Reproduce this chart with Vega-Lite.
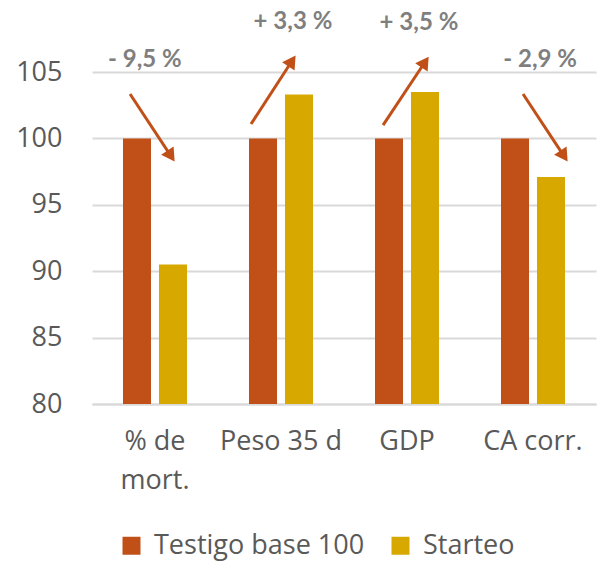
{
  "$schema": "https://vega.github.io/schema/vega-lite/v6.json",
  "width": 504,
  "height": 332,
  "autosize": {"type": "none"},
  "padding": {"left": 92, "top": 72, "right": 9, "bottom": 158},
  "background": "white",
  "config": {"view": {"stroke": null}, "font": "Open Sans"},
  "datasets": {
    "bars": [
      {"indicador": "% de mort.", "serie": "Testigo base 100", "valor": 100},
      {"indicador": "% de mort.", "serie": "Starteo", "valor": 90.5},
      {"indicador": "Peso 35 d", "serie": "Testigo base 100", "valor": 100},
      {"indicador": "Peso 35 d", "serie": "Starteo", "valor": 103.3},
      {"indicador": "GDP", "serie": "Testigo base 100", "valor": 100},
      {"indicador": "GDP", "serie": "Starteo", "valor": 103.5},
      {"indicador": "CA corr.", "serie": "Testigo base 100", "valor": 100},
      {"indicador": "CA corr.", "serie": "Starteo", "valor": 97.1}
    ],
    "arrows": [
      {"x0": 0.302, "y0": 103.34, "x1": 0.627, "y1": 98.67, "cambio": -9.5},
      {"x0": 1.262, "y0": 101.08, "x1": 1.587, "y1": 105.83, "cambio": 3.3},
      {"x0": 2.31, "y0": 101.0, "x1": 2.643, "y1": 105.75, "cambio": 3.5},
      {"x0": 3.421, "y0": 103.34, "x1": 3.746, "y1": 98.67, "cambio": -2.9}
    ],
    "labels": [
      {"lx": 0.42, "ly": 105.9, "texto": "- 9,5 %"},
      {"lx": 1.595, "ly": 108.77, "texto": "+ 3,3 %"},
      {"lx": 2.595, "ly": 108.7, "texto": "+ 3,5 %"},
      {"lx": 3.556, "ly": 105.9, "texto": "- 2,9 %"}
    ]
  },
  "layer": [
    {
      "data": {"name": "bars"},
      "mark": {"type": "bar"},
      "encoding": {
        "x": {
          "field": "indicador",
          "type": "nominal",
          "sort": null,
          "scale": {"paddingInner": 0.492, "paddingOuter": 0.246},
          "axis": {
            "title": null,
            "labelAngle": 0,
            "labelFont": "Open Sans",
            "labelFontSize": 27,
            "labelColor": "#595959",
            "ticks": false,
            "domain": true,
            "domainColor": "#D9D9D9",
            "domainWidth": 2,
            "grid": false,
            "labelPadding": 24,
            "labelLineHeight": 39,
            "labelLimit": 300,
            "labelExpr": "datum.value == '% de mort.' ? ['% de', 'mort.'] : datum.value"
          }
        },
        "xOffset": {
          "field": "serie",
          "type": "nominal",
          "sort": ["Testigo base 100", "Starteo"],
          "scale": {"paddingInner": 0.222, "paddingOuter": 0}
        },
        "y": {
          "field": "valor",
          "type": "quantitative",
          "scale": {"domain": [80, 105], "nice": false, "zero": false},
          "axis": {
            "title": null,
            "values": [80, 85, 90, 95, 100, 105],
            "grid": true,
            "gridColor": "#D9D9D9",
            "gridWidth": 2,
            "domain": false,
            "ticks": false,
            "labelFont": "Open Sans",
            "labelFontSize": 27,
            "labelColor": "#595959",
            "labelPadding": 30
          }
        },
        "y2": {"datum": 80},
        "color": {
          "field": "serie",
          "type": "nominal",
          "scale": {"domain": ["Testigo base 100", "Starteo"], "range": ["#C05018", "#D7A900"]},
          "legend": {
            "title": null,
            "orient": "none",
            "legendX": 26,
            "legendY": 460,
            "direction": "horizontal",
            "symbolType": "square",
            "symbolSize": 324,
            "symbolStrokeWidth": 0,
            "labelFont": "Open Sans",
            "labelFontSize": 27,
            "labelColor": "#595959",
            "labelOffset": 9,
            "columnPadding": 22,
            "labelLimit": 400
          }
        }
      }
    },
    {
      "data": {"name": "arrows"},
      "mark": {"type": "rule", "color": "#C05018", "strokeWidth": 3},
      "encoding": {
        "x": {"field": "x0", "type": "quantitative", "scale": {"domain": [0, 4], "nice": false, "zero": false}, "axis": null},
        "y": {"field": "y0", "type": "quantitative"},
        "x2": {"field": "x1"},
        "y2": {"field": "y1"}
      }
    },
    {
      "data": {"name": "arrows"},
      "mark": {"type": "point", "shape": "triangle-up", "filled": true, "color": "#C05018", "opacity": 1, "size": 225},
      "encoding": {
        "x": {"field": "x1", "type": "quantitative", "scale": {"domain": [0, 4], "nice": false, "zero": false}, "axis": null},
        "y": {"field": "y1", "type": "quantitative"},
        "angle": {"field": "cambio", "type": "quantitative", "scale": {"type": "threshold", "domain": [0], "range": [146, 34]}, "legend": null}
      }
    },
    {
      "data": {"name": "labels"},
      "mark": {"type": "text", "font": "Lato", "fontWeight": "bold", "fontSize": 24, "color": "#7F7F7F", "baseline": "middle", "align": "center"},
      "encoding": {
        "x": {"field": "lx", "type": "quantitative", "scale": {"domain": [0, 4], "nice": false, "zero": false}, "axis": null},
        "y": {"field": "ly", "type": "quantitative"},
        "text": {"field": "texto"}
      }
    }
  ],
  "resolve": {"scale": {"x": "independent"}}
}
